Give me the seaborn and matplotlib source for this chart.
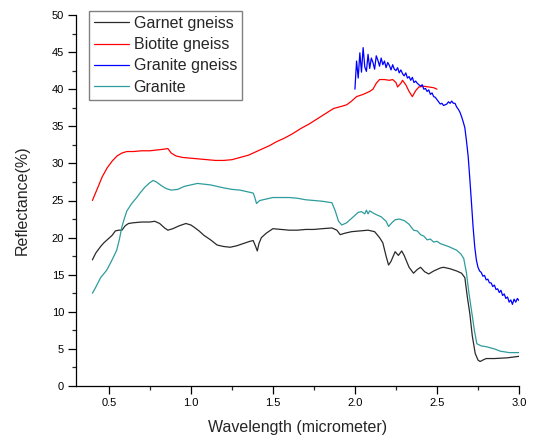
import numpy as np
import pandas as pd
import matplotlib
matplotlib.use("Agg")
import matplotlib.pyplot as plt
import seaborn as sns
from matplotlib.ticker import MultipleLocator
from matplotlib.lines import Line2D

# ---------------- data ----------------
garnet_x = [0.40, 0.42, 0.45, 0.47, 0.49, 0.52, 0.54, 0.56, 0.58, 0.60, 0.62, 0.65, 0.70, 0.75, 0.78,
            0.81, 0.84, 0.86, 0.89, 0.93, 0.97, 1.00, 1.02, 1.05, 1.08, 1.12, 1.16, 1.20, 1.24, 1.28,
            1.32, 1.36, 1.38, 1.395, 1.405, 1.415, 1.43, 1.46, 1.50, 1.55, 1.60, 1.65, 1.70, 1.75,
            1.80, 1.86, 1.89, 1.91, 1.94, 1.98, 2.03, 2.08, 2.12, 2.15, 2.17, 2.19, 2.205, 2.22,
            2.245, 2.265, 2.285, 2.30, 2.33, 2.357, 2.38, 2.40, 2.425, 2.45, 2.48, 2.52, 2.54, 2.58,
            2.62, 2.65, 2.67, 2.685, 2.70, 2.715, 2.733, 2.75, 2.763, 2.78, 2.80, 2.85, 2.93, 3.00]
garnet_y = [17.0, 17.9, 18.8, 19.3, 19.7, 20.3, 20.9, 21.0, 21.0, 21.6, 21.9, 22.0, 22.1, 22.1, 22.2,
            21.9, 21.3, 21.0, 21.2, 21.6, 21.9, 21.7, 21.4, 20.9, 20.3, 19.7, 19.0, 18.8, 18.7, 18.9,
            19.2, 19.5, 19.6, 18.8, 18.2, 19.2, 20.0, 20.6, 21.2, 21.1, 21.0, 21.0, 21.1, 21.1,
            21.2, 21.3, 21.0, 20.4, 20.6, 20.8, 20.9, 21.0, 20.8, 20.0, 19.3, 17.5, 16.3, 16.8,
            18.1, 17.6, 18.2, 17.6, 16.0, 15.2, 15.7, 16.0, 15.4, 15.1, 15.5, 15.9, 16.0, 15.8,
            15.5, 15.2, 14.6, 12.0, 9.8, 6.8, 4.4, 3.5, 3.3, 3.5, 3.7, 3.7, 3.8, 4.0]

biotite_x = [0.40, 0.43, 0.46, 0.49, 0.52, 0.55, 0.58, 0.61, 0.65, 0.70, 0.75, 0.79, 0.83, 0.86, 0.88,
             0.91, 0.95, 1.00, 1.05, 1.10, 1.15, 1.20, 1.25, 1.30, 1.35, 1.40, 1.44, 1.48, 1.52, 1.57,
             1.62, 1.67, 1.72, 1.77, 1.82, 1.87, 1.92, 1.95, 1.98, 2.01, 2.05, 2.09, 2.11, 2.13,
             2.15, 2.18, 2.21, 2.23, 2.25, 2.26, 2.28, 2.29, 2.31, 2.33, 2.35, 2.37, 2.39, 2.42,
             2.45, 2.48, 2.50]
biotite_y = [25.0, 26.6, 28.2, 29.4, 30.3, 31.0, 31.4, 31.6, 31.6, 31.7, 31.7, 31.8, 31.9, 32.0, 31.4,
             31.0, 30.8, 30.7, 30.6, 30.5, 30.4, 30.4, 30.5, 30.8, 31.1, 31.6, 32.0, 32.4, 32.9, 33.4,
             34.0, 34.7, 35.3, 36.0, 36.7, 37.4, 37.7, 37.9, 38.4, 39.0, 39.3, 39.7, 40.0, 40.8,
             41.3, 41.3, 41.2, 41.3, 40.9, 40.3, 40.8, 41.2, 40.6, 39.7, 39.0, 39.8, 40.3, 40.4,
             40.3, 40.2, 40.0]

gneiss_x = [2.00, 2.01, 2.02, 2.03, 2.04, 2.05, 2.06, 2.07, 2.08, 2.09, 2.10, 2.11, 2.12, 2.13, 2.14,
            2.15, 2.16, 2.17, 2.18, 2.19, 2.20, 2.21, 2.22, 2.23, 2.24, 2.25, 2.26, 2.27, 2.28, 2.29,
            2.30, 2.31, 2.32, 2.33, 2.34, 2.35, 2.36, 2.37, 2.38, 2.39, 2.40, 2.41, 2.42, 2.43, 2.44,
            2.45, 2.46, 2.47, 2.48, 2.49, 2.50, 2.51, 2.52, 2.53, 2.54, 2.55, 2.56, 2.57, 2.58, 2.59,
            2.60, 2.61, 2.62, 2.63, 2.64, 2.65, 2.66, 2.67, 2.68, 2.69, 2.70, 2.71, 2.72, 2.73, 2.74,
            2.75, 2.76, 2.77, 2.78, 2.79, 2.80, 2.81, 2.82, 2.83, 2.84, 2.85, 2.86, 2.87, 2.88, 2.89,
            2.90, 2.91, 2.92, 2.93, 2.94, 2.95, 2.96, 2.97, 2.98, 2.99, 3.00]
gneiss_y = [40.0, 43.8, 41.5, 44.9, 42.3, 45.6, 43.0, 42.4, 44.7, 42.8, 44.2, 43.6, 42.7, 44.5, 43.9,
            43.1, 44.2, 43.3, 43.8, 42.9, 43.6, 43.2, 42.6, 43.3, 42.7, 42.5, 42.9, 42.2, 42.6, 42.1,
            41.8, 42.2, 41.5, 41.7, 41.2, 41.6, 40.9, 41.1, 40.8, 40.6, 40.4, 40.6, 40.0, 40.1, 39.7,
            39.9, 39.3, 39.5, 39.0, 38.9, 38.6, 38.3, 38.0, 38.1, 37.8, 37.9, 38.0, 38.3, 38.1, 38.4,
            38.1, 38.1, 37.6, 37.3, 36.9, 36.3, 35.6, 34.8, 33.0, 31.0, 28.0, 24.8, 21.5, 18.8, 17.0,
            16.0, 15.5, 15.3, 14.8, 14.9, 14.3, 14.4, 13.9, 13.9, 13.4, 13.6, 13.0, 13.1, 12.6, 12.9,
            12.2, 12.4, 11.8, 12.0, 11.3, 11.6, 11.0, 11.7, 11.3, 11.8, 11.5]

granite_x = [0.40, 0.42, 0.45, 0.487, 0.52, 0.548, 0.565, 0.579, 0.595, 0.61, 0.64, 0.67, 0.69, 0.72,
             0.75, 0.77, 0.79, 0.82, 0.85, 0.88, 0.92, 0.96, 1.00, 1.04, 1.08, 1.12, 1.16, 1.20, 1.25,
             1.30, 1.34, 1.38, 1.39, 1.40, 1.42, 1.46, 1.50, 1.55, 1.60, 1.65, 1.70, 1.75, 1.80, 1.86,
             1.88, 1.90, 1.92, 1.95, 1.97, 2.00, 2.02, 2.04, 2.06, 2.07, 2.08, 2.09, 2.12, 2.16, 2.19,
             2.205, 2.225, 2.245, 2.27, 2.30, 2.33, 2.357, 2.38, 2.40, 2.42, 2.44, 2.46, 2.48, 2.50,
             2.52, 2.57, 2.62, 2.645, 2.663, 2.68, 2.695, 2.713, 2.728, 2.743, 2.77, 2.80, 2.85,
             2.885, 2.94, 3.00]
granite_y = [12.5, 13.3, 14.6, 15.6, 17.0, 18.3, 19.8, 21.4, 22.6, 23.6, 24.6, 25.4, 26.0, 26.8,
             27.4, 27.7, 27.5, 27.0, 26.6, 26.4, 26.5, 26.9, 27.1, 27.3, 27.2, 27.1, 26.9, 26.7, 26.5,
             26.4, 26.2, 26.0, 25.4, 24.6, 25.0, 25.2, 25.4, 25.4, 25.4, 25.3, 25.1, 25.0, 24.9, 24.7,
             23.6, 22.2, 21.7, 22.0, 22.4, 23.0, 23.4, 23.5, 23.2, 23.7, 23.2, 23.6, 23.2, 22.8, 22.2,
             21.5, 22.0, 22.4, 22.5, 22.3, 21.8, 21.0, 20.9, 20.4, 20.2, 19.7, 19.8, 19.4, 19.5,
             19.2, 18.8, 18.3, 17.8, 17.2, 15.2, 12.5, 9.8, 7.5, 5.7, 5.4, 5.3, 5.0,
             4.7, 4.5, 4.5]

series_names = ["Garnet gneiss", "Biotite gneiss", "Granite gneiss", "Granite"]
series_colors = ["#2A2A2A", "#FF0000", "#0000FF", "#2E9C9C"]

frames = []
for name, xs, ys in zip(series_names,
                        [garnet_x, biotite_x, gneiss_x, granite_x],
                        [garnet_y, biotite_y, gneiss_y, granite_y]):
    frames.append(pd.DataFrame({"Wavelength": xs, "Reflectance": ys, "Sample": name}))
df = pd.concat(frames, ignore_index=True)

# ---------------- plot ----------------
sns.set_style("ticks")
plt.rcParams["font.family"] = ["Liberation Sans", "DejaVu Sans"]

fig = plt.figure(figsize=(5.37, 4.43), dpi=100)
ax = fig.add_axes([76 / 537, 1 - 386 / 443, (519 - 76) / 537, (386 - 15) / 443])

palette = dict(zip(series_names, series_colors))
sns.lineplot(data=df, x="Wavelength", y="Reflectance", hue="Sample", hue_order=series_names,
             palette=palette, estimator=None, sort=False, linewidth=0.9, ax=ax, legend=False)

ax.set_xlim(0.3, 3.0)
ax.set_ylim(0, 50)
ax.xaxis.set_major_locator(MultipleLocator(0.5))
ax.xaxis.set_minor_locator(MultipleLocator(0.25))
ax.yaxis.set_major_locator(MultipleLocator(5))
ax.yaxis.set_minor_locator(MultipleLocator(2.5))
ax.set_xticks([0.5, 1.0, 1.5, 2.0, 2.5, 3.0])
ax.set_xticklabels(["0.5", "1.0", "1.5", "2.0", "2.5", "3.0"])
ax.tick_params(axis="both", which="major", direction="out", length=5.5, width=0.9,
               labelsize=8, colors="black", pad=3)
ax.tick_params(axis="both", which="minor", direction="out", length=3, width=0.9)
for s in ["top", "right"]:
    ax.spines[s].set_visible(False)
for s in ["left", "bottom"]:
    ax.spines[s].set_linewidth(0.9)
    ax.spines[s].set_color("black")

ax.set_xlabel("Wavelength (micrometer)", fontsize=11.5, labelpad=9)
ax.set_ylabel("Reflectance(%)", fontsize=11.5, labelpad=16)

handles = [Line2D([0], [0], color=c, lw=0.9) for c in series_colors]
leg = ax.legend(handles, series_names, loc="upper left", bbox_to_anchor=(0.029, 1.011),
                borderaxespad=0, fontsize=11.5, frameon=True, fancybox=False,
                handlelength=2.2, handletextpad=0.3, labelspacing=0.4, borderpad=0.3)
leg.get_frame().set_edgecolor("#808080")
leg.get_frame().set_linewidth(1.0)
leg.get_frame().set_alpha(1)

fig.savefig("out.png", dpi=100)
